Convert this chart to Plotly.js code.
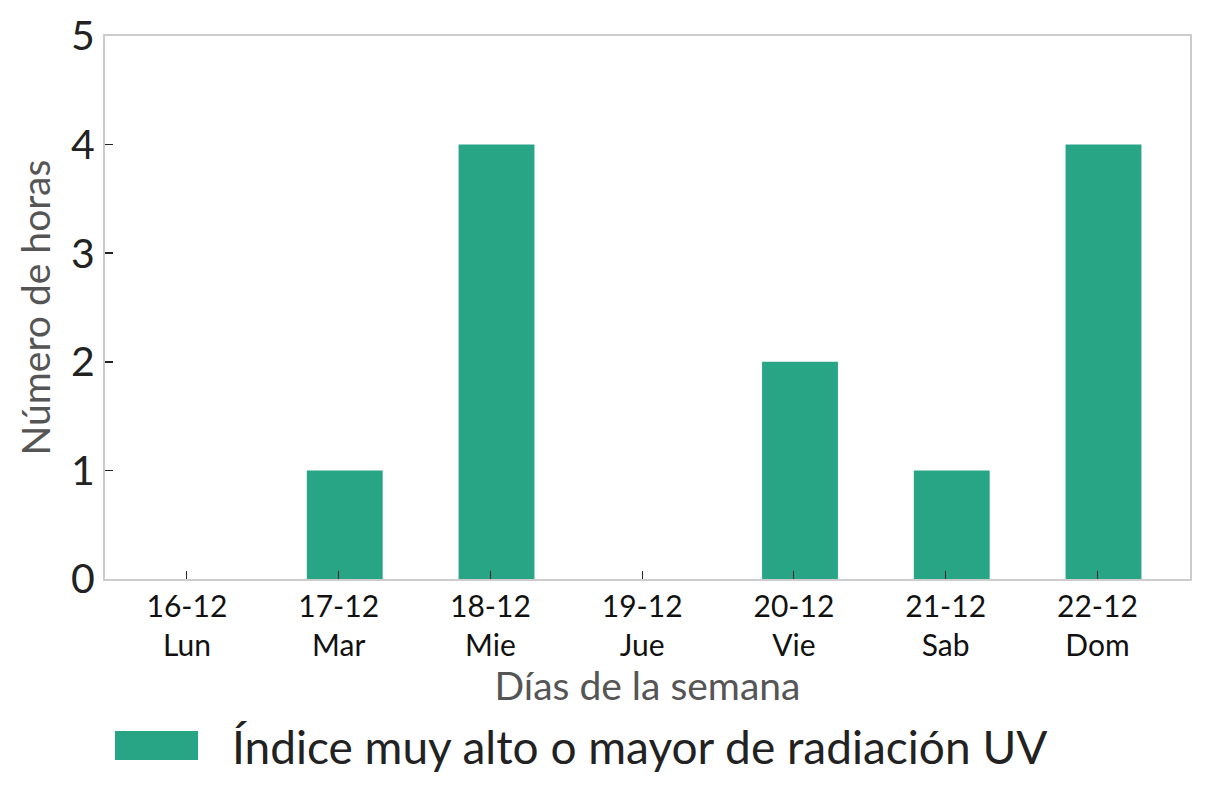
<!DOCTYPE html>
<html>
<head>
<meta charset="utf-8">
<script src="https://cdn.plot.ly/plotly-3.0.1.min.js"></script>
<style>html,body{margin:0;padding:0;background:#fff;}#chart{width:1209px;height:807px;}</style>
</head>
<body>
<div id="chart"></div>
<script>
const categories = ["16-12<br>Lun", "17-12<br>Mar", "18-12<br>Mie", "19-12<br>Jue", "20-12<br>Vie", "21-12<br>Sab", "22-12<br>Dom"];
const hours = [0, 1, 4, 0, 2, 1, 4];
const seriesName = "Índice muy alto o mayor de radiación UV";
const yTicks = [0, 1, 2, 3, 4, 5];
const xTitle = "Días de la semana";
const yTitle = "Número de horas";
const barColor = "#28a585";

const xIdx = categories.map((c, i) => i);
const font = "Lato, 'Open Sans', sans-serif";

const trace = {
  type: "bar",
  x: xIdx,
  y: hours,
  width: 0.5,
  offset: -0.21,
  marker: {color: barColor},
  name: seriesName,
  showlegend: false,
  hoverinfo: "skip"
};

const layout = {
  width: 1209,
  height: 807,
  margin: {l: 105, r: 19, t: 36, b: 228},
  paper_bgcolor: "#fff",
  plot_bgcolor: "#fff",
  font: {family: font, color: "#222"},
  xaxis: {
    range: [-0.54, 6.61],
    tickmode: "array",
    tickvals: xIdx,
    ticktext: categories,
    ticks: "inside",
    ticklen: 8,
    tickwidth: 1,
    tickcolor: "#222",
    tickfont: {size: 30, color: "#111", family: font},
    showline: true,
    linecolor: "#cccccc",
    linewidth: 2,
    mirror: true,
    showgrid: false,
    zeroline: false,
    fixedrange: true,
    title: {text: xTitle, font: {size: 39, color: "#555", family: font}, standoff: 10}
  },
  yaxis: {
    range: [0, 5],
    tickmode: "array",
    tickvals: yTicks,
    ticktext: yTicks.map(String),
    ticks: "inside",
    ticklen: 8,
    tickwidth: 1.5,
    tickcolor: "#222",
    ticklabelstandoff: 0,
    tickfont: {size: 41, color: "#222", family: font},
    showline: true,
    linecolor: "#cccccc",
    linewidth: 2,
    mirror: true,
    showgrid: false,
    zeroline: false,
    fixedrange: true,
    title: {text: yTitle, font: {size: 39, color: "#555", family: font}, standoff: 8}
  },
  showlegend: false,
  shapes: [{
    type: "rect", xref: "paper", yref: "paper",
    x0: (115 - 105) / 1085, x1: (198 - 105) / 1085,
    y0: (579 - 760) / 543, y1: (579 - 731) / 543,
    fillcolor: barColor, line: {width: 0}
  }],
  annotations: [{
    xref: "paper", yref: "paper",
    x: (230 - 105) / 1085, y: (579 - 746) / 543,
    xanchor: "left", yanchor: "middle",
    text: seriesName, showarrow: false,
    font: {size: 46, color: "#222", family: font}
  }]
};

Plotly.newPlot("chart", [trace], layout, {displayModeBar: false, staticPlot: true});
</script>
</body>
</html>
